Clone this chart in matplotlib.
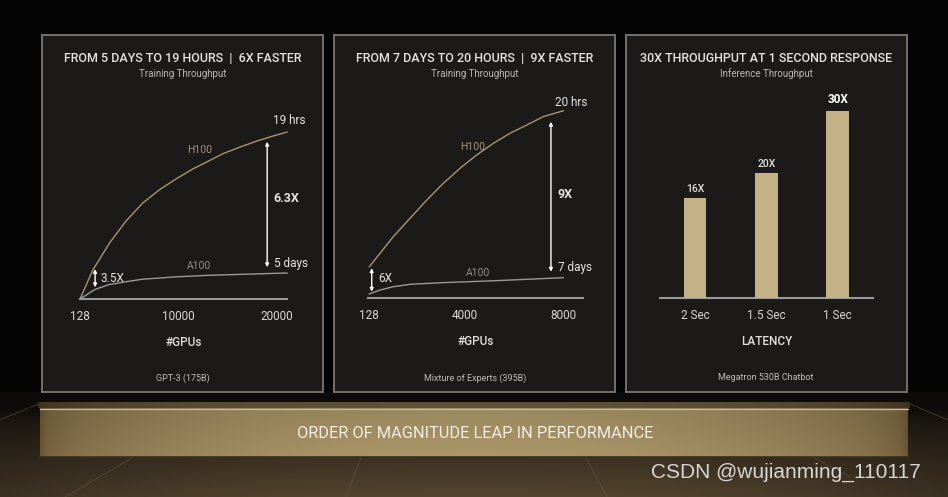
import numpy as np
import matplotlib
matplotlib.use("Agg")
from matplotlib import pyplot as plt
from matplotlib.patches import Rectangle

plt.rcParams['font.family'] = ['Roboto', 'DejaVu Sans']

# panel 1 - GPT-3 (175B), relative training throughput vs #GPUs
gpt3_gpus = [128, 1400, 3100, 4770, 6450, 8130, 9810, 11500, 12900, 14600, 16300, 18000, 19600, 21000]
gpt3_h100 = [0.0, 1.1, 2.15, 3.0, 3.69, 4.2, 4.62, 5.0, 5.27, 5.6, 5.85, 6.08, 6.27, 6.42]
gpt3_a100_gpus = [128, 1600, 3000, 4700, 6400, 9700, 13000, 16500, 21000]
gpt3_a100 = [0.0, 0.36, 0.55, 0.66, 0.76, 0.85, 0.91, 0.95, 1.0]
gpt3_ticks = [128, 10000, 20000]

# panel 2 - Mixture of Experts (395B)
moe_gpus = [128, 1100, 1780, 2460, 3130, 3810, 4490, 5160, 5840, 6520, 7190, 8000]
moe_h100 = [1.53, 2.99, 3.88, 4.77, 5.58, 6.31, 6.96, 7.52, 8.01, 8.41, 8.82, 9.1]
moe_a100_gpus = [128, 560, 1090, 1780, 3120, 5150, 8000]
moe_a100 = [0.21, 0.40, 0.56, 0.68, 0.76, 0.85, 1.0]
moe_ticks = [128, 4000, 8000]

# panel 3 - Megatron 530B chatbot, inference throughput
latency = ['2 Sec', '1.5 Sec', '1 Sec']
speedup = [16, 20, 30]

GOLD = '#a8966c'
BAR = '#c4b186'
GREY = '#9a9a9a'
TXT = '#e4e4e4'

W, H = 948, 497
fig = plt.figure(figsize=(W / 100, H / 100), dpi=100)
fig.patch.set_facecolor('#040404')

# background axes in pixel coords
bg = fig.add_axes([0, 0, 1, 1])
bg.set_xlim(0, W)
bg.set_ylim(H, 0)
bg.axis('off')

# floor under the panels
yy = np.linspace(0, 1, 60)[:, None]
xx = np.linspace(-1, 1, 200)[None, :]
amt = np.clip((yy - 0.15) / 0.85, 0, 1) ** 0.7 * (1 - 0.35 * xx ** 2)
dark = np.array([0.05, 0.045, 0.04])
brown = np.array([0.33, 0.27, 0.18])
floor = dark + amt[..., None] * (brown - dark)
bg.imshow(floor, extent=(0, W, H, 392), aspect='auto', zorder=0)
# faint perspective lines of the floor
for (xa, ya), (xb, yb) in [((65, 497), (132, 458)), ((346, 497), (361, 458)),
                           ((607, 497), (586, 458)), ((850, 477), (814, 458)),
                           ((0, 420), (38, 404)), ((948, 420), (910, 404))]:
    bg.plot([xa, xb], [ya, yb], color='#6b5a40', lw=0.6, alpha=0.6, zorder=0.5)

# panels
for x0, x1 in [(42, 323), (334, 615), (626, 907)]:
    bg.add_patch(Rectangle((x0, 35), x1 - x0, 357, facecolor='#1b1a19',
                           edgecolor='#75706a', lw=1.4, zorder=1))

# gold bar
prof = np.cos(np.linspace(-1, 1, 300) * np.pi / 2) ** 0.45
edge = np.array([0.42, 0.34, 0.21])
mid = np.array([0.67, 0.59, 0.41])
gold = edge + prof[None, :, None] * (mid - edge)
gold = np.repeat(gold, 20, axis=0)
vshade = np.linspace(0.9, 1.0, 20)[:, None, None]
bg.imshow(gold * vshade, extent=(40, 908, 457, 408), aspect='auto', zorder=2)
bg.imshow(gold[:2] * 0.55, extent=(38, 910, 408, 402), aspect='auto', zorder=2)
bg.plot([40, 908], [408.5, 408.5], color='#cdb98a', lw=0.9, zorder=3)
bg.plot([40, 908], [457, 457], color='#3a2f1c', lw=1.2, zorder=3)
bg.text(475, 433, 'ORDER OF MAGNITUDE LEAP IN PERFORMANCE', color='#f2eee4',
        fontsize=11.8, ha='center', va='center', zorder=4)
bg.text(786, 472, 'CSDN @wujianming_110117', color='#d6d6d6', fontsize=15,
        family=['Liberation Sans', 'DejaVu Sans'], ha='center', va='center', zorder=4)

# panel titles / subtitles / footnotes
titles = ['FROM 5 DAYS TO 19 HOURS  |  6X FASTER',
          'FROM 7 DAYS TO 20 HOURS  |  9X FASTER',
          '30X THROUGHPUT AT 1 SECOND RESPONSE']
subs = ['Training Throughput', 'Training Throughput', 'Inference Throughput']
notes = ['GPT-3 (175B)', 'Mixture of Experts (395B)', 'Megatron 530B Chatbot']
for cx, t, s, n in zip([183, 475, 766], titles, subs, notes):
    bg.text(cx, 59, t, color=TXT, fontsize=9, fontweight='medium',
            ha='center', va='center', zorder=4)
    bg.text(cx, 74, s, color='#b8b8b8', fontsize=7, ha='center', va='center', zorder=4)
    bg.text(cx, 378, n, color='#bdbdbd', fontsize=6.5, ha='center', va='center', zorder=4)

# chart annotations
def label(x, y, s, color=TXT, size=8.5, weight='normal', ha='left'):
    bg.text(x, y, s, color=color, fontsize=size, fontweight=weight,
            ha=ha, va='center', zorder=4)

label(200, 150, 'H100', color='#a39478', size=7.5, ha='center')
label(199, 266, 'A100', color='#8c8c8c', size=7.5, ha='center')
label(273, 121, '19 hrs')
label(273, 198, '6.3X', weight='bold', size=9)
label(274, 264, '5 days')
label(101, 278, '3.5X', size=8.5)

label(473, 147, 'H100', color='#a39478', size=7.5, ha='center')
label(478, 273, 'A100', color='#8c8c8c', size=7.5, ha='center')
label(555, 103, '20 hrs')
label(558, 195, '9X', weight='bold', size=9)
label(558, 268, '7 days')
label(378, 278, '6X', size=8.5)


def px_axes(x0, x1, y0, y1, xlim, ylim):
    ax = fig.add_axes([x0 / W, 1 - y1 / H, (x1 - x0) / W, (y1 - y0) / H])
    ax.patch.set_alpha(0)
    for s in ax.spines.values():
        s.set_visible(False)
    ax.set_xlim(*xlim)
    ax.set_ylim(*ylim)
    ax.set_yticks([])
    ax.tick_params(length=0, colors='#d8d8d8', labelsize=8.5, pad=8)
    return ax


def arrow(ax, x, y0, y1):
    ax.annotate('', xy=(x, y1), xytext=(x, y0),
                arrowprops=dict(arrowstyle='<|-|>', color='white', lw=1,
                                mutation_scale=5, shrinkA=0, shrinkB=0))


# panel 1
ax1 = px_axes(80, 287, 110, 299, (128, 21000), (0, 7.27))
ax1.axhline(0, color=GREY, lw=1.5, clip_on=False)
ax1.plot(gpt3_gpus, gpt3_h100, color=GOLD, lw=1.0, clip_on=False, solid_joinstyle='round')
ax1.plot(gpt3_a100_gpus, gpt3_a100, color=GREY, lw=1.0, clip_on=False, solid_joinstyle='round')
arrow(ax1, 19000, 1.22, 6.05)
arrow(ax1, 1650, 0.45, 1.15)
ax1.set_xticks(gpt3_ticks)
ax1.set_xticklabels([str(t) for t in gpt3_ticks])
ax1.set_xlabel('#GPUs', color='#e0e0e0', fontsize=8.5, fontweight='medium', labelpad=9)

# panel 2
ax2 = px_axes(368, 583, 90, 298.3, (75, 8801), (0, 10.11))
ax2.axhline(0, color=GREY, lw=1.5, clip_on=False)
ax2.plot(moe_gpus, moe_h100, color=GOLD, lw=1.0, clip_on=False, solid_joinstyle='round')
ax2.plot(moe_a100_gpus, moe_a100, color=GREY, lw=1.0, clip_on=False, solid_joinstyle='round')
arrow(ax2, 7500, 1.29, 8.57)
arrow(ax2, 225, 0.32, 1.46)
ax2.set_xticks(moe_ticks)
ax2.set_xticklabels([str(t) for t in moe_ticks])
ax2.set_xlabel('#GPUs', color='#e0e0e0', fontsize=8.5, fontweight='medium', labelpad=9)

# panel 3
ax3 = px_axes(660, 872.7, 90, 298.3, (-0.49, 2.49), (0, 33.3))
ax3.axhline(0, color=GREY, lw=1.5, clip_on=False)
pos = np.arange(len(latency))
ax3.bar(pos, speedup, width=0.32, color=BAR, zorder=2)
for i, v in enumerate(speedup):
    big = v == max(speedup)
    ax3.annotate('%dX' % v, (pos[i], v), xytext=(0, 3), textcoords='offset points',
                 ha='center', va='bottom', color='white' if big else '#e0e0e0',
                 fontsize=8.5 if big else 7.5, fontweight='bold' if big else 'medium')
ax3.set_xticks(pos)
ax3.set_xticklabels(latency)
ax3.set_xlabel('LATENCY', color='#e0e0e0', fontsize=8.5, fontweight='medium', labelpad=9)

fig.savefig('out.png', dpi=100, facecolor=fig.get_facecolor())
